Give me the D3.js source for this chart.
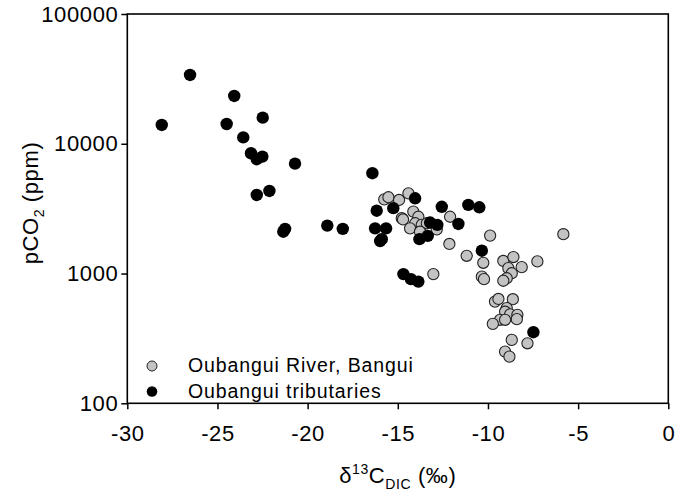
<!DOCTYPE html>
<html>
<head>
<meta charset="utf-8">
<script src="https://cdn.jsdelivr.net/npm/d3@7"></script>
<style>
  body { margin: 0; background: #fff; }
  svg { display: block; font-family: "Liberation Sans", Arial, sans-serif; }
</style>
</head>
<body>
<div id="chart"></div>
<script>
// d13C-DIC vs pCO2, Oubangui river and tributaries

const xTicks = [-30, -25, -20, -15, -10, -5, 0];
const yTicks = [100, 1000, 10000, 100000];

// Oubangui River, Bangui (grey)
const riverX = [-15.75, -15.52, -14.93, -14.41, -14.14, -14.78, -14.71, -13.86, -14.04, -14.32,
  -13.67, -13.39, -13.77, -12.84, -12.1, -12.14, -11.18, -13.03, -9.88, -10.26,
  -10.34, -10.22, -9.15, -8.59, -8.13, -8.87, -8.68, -8.96, -9.15, -7.26,
  -5.82, -9.61, -9.42, -8.62, -8.96, -9.05, -8.77, -8.37, -8.4, -9.33,
  -9.73, -9.05, -8.68, -7.81, -9.05, -8.81];
const riverY = [3730, 3870, 3690, 4150, 3000, 2670, 2610, 2740, 2440, 2230,
  2370, 2440, 2100, 2190, 2740, 1690, 1370, 990, 1960, 1210,
  946, 905, 1250, 1340, 1120, 1100, 1005, 920, 880, 1240,
  2010, 608, 637, 634, 541, 508, 485, 480, 445, 440,
  409, 440, 308, 290, 250, 229];

// Oubangui tributaries (black)
const tribX = [-26.52, -28.09, -24.07, -24.49, -22.49, -23.57, -23.14, -22.82, -22.51, -20.7,
  -22.12, -22.82, -21.25, -21.35, -18.91, -18.05, -16.41, -16.17, -14.04, -15.25,
  -16.26, -15.65, -15.89, -15.98, -12.56, -11.09, -10.48, -13.21, -12.81, -11.64,
  -13.8, -13.34, -10.34, -14.69, -14.27, -13.86, -7.48];
const tribY = [33900, 13960, 23350, 14200, 15900, 11200, 8450, 7600, 7960, 7030,
  4330, 4030, 2210, 2100, 2340, 2210, 5930, 3050, 3800, 3190,
  2230, 2230, 1840, 1780, 3270, 3380, 3240, 2470, 2370, 2410,
  1840, 1950, 1500, 990, 905, 867, 353];

const seriesNames = ['Oubangui River, Bangui', 'Oubangui tributaries'];

const width = 681, height = 501;
const margin = { top: 14, right: 12.7, bottom: 97.7, left: 127.3 };

const svg = d3.select('#chart').append('svg')
  .attr('width', width).attr('height', height)
  .attr('viewBox', `0 0 ${width} ${height}`);

const x = d3.scaleLinear().domain([-30, 0]).range([margin.left, width - margin.right]);
const y = d3.scaleLog().domain([100, 100000]).range([height - margin.bottom, margin.top]);

// axes
const xAxis = svg.append('g')
  .attr('transform', `translate(0,${y(100)})`)
  .call(d3.axisBottom(x).tickValues(xTicks).tickSize(6).tickPadding(16).tickFormat(d3.format('d')));
const yAxis = svg.append('g')
  .attr('transform', `translate(${x(-30)},0)`)
  .call(d3.axisLeft(y).tickValues(yTicks).tickSize(6).tickPadding(3).tickFormat(d3.format('d')));

[xAxis, yAxis].forEach((ax) => {
  ax.select('.domain').remove();
  ax.selectAll('line').attr('stroke', '#000').attr('stroke-width', 1.5);
  ax.selectAll('text').attr('fill', '#000').style('font-size', '22px')
    .style('letter-spacing', '0.6px')
    .style('font-family', '"Liberation Sans", Arial, sans-serif');
});
xAxis.selectAll('text').text((d) => d3.format('d')(d).replace('−', '-'));

// frame
svg.append('rect')
  .attr('x', x(-30)).attr('y', y(100000))
  .attr('width', x(0) - x(-30)).attr('height', y(100) - y(100000))
  .attr('fill', 'none').attr('stroke', '#000').attr('stroke-width', 1.6);

// points
const river = riverX.map((v, i) => ({ x: v, y: riverY[i] }));
const trib = tribX.map((v, i) => ({ x: v, y: tribY[i] }));

svg.append('g').selectAll('circle').data(river).join('circle')
  .attr('cx', (d) => x(d.x)).attr('cy', (d) => y(d.y)).attr('r', 5.6)
  .attr('fill', '#c3c3c3').attr('stroke', '#222').attr('stroke-width', 1.1);

svg.append('g').selectAll('circle').data(trib).join('circle')
  .attr('cx', (d) => x(d.x)).attr('cy', (d) => y(d.y)).attr('r', 6.2)
  .attr('fill', '#000');

// legend
const legend = svg.append('g').attr('transform', 'translate(152,366)');
legend.append('circle').attr('cx', 0).attr('cy', 0).attr('r', 5)
  .attr('fill', '#c3c3c3').attr('stroke', '#222').attr('stroke-width', 1);
legend.append('circle').attr('cx', 0).attr('cy', 25.5).attr('r', 5.3).attr('fill', '#000');
legend.selectAll('text').data(seriesNames).join('text')
  .attr('x', 36).attr('y', (d, i) => i * 25.5 + 6)
  .style('font-size', '19.5px').style('letter-spacing', '0.9px').attr('fill', '#000')
  .text((d) => d);

// axis titles
const xt = svg.append('text')
  .attr('x', (x(-30) + x(0)) / 2).attr('y', 483)
  .attr('text-anchor', 'middle').style('font-size', '22px').style('letter-spacing', '0.6px');
xt.append('tspan').text('δ');
xt.append('tspan').attr('dy', -9).style('font-size', '14px').text('13');
xt.append('tspan').attr('dy', 9).text('C');
xt.append('tspan').attr('dy', 6).style('font-size', '14px').text('DIC');
xt.append('tspan').attr('dy', -6).text(' (‰)');

const yt = svg.append('text')
  .attr('transform', 'translate(37.5,203) rotate(-90)')
  .attr('text-anchor', 'middle').style('font-size', '22px').style('letter-spacing', '0.6px');
yt.append('tspan').text('pCO');
yt.append('tspan').attr('dy', 6).style('font-size', '14px').text('2');
yt.append('tspan').attr('dy', -6).text(' (ppm)');
</script>
</body>
</html>
